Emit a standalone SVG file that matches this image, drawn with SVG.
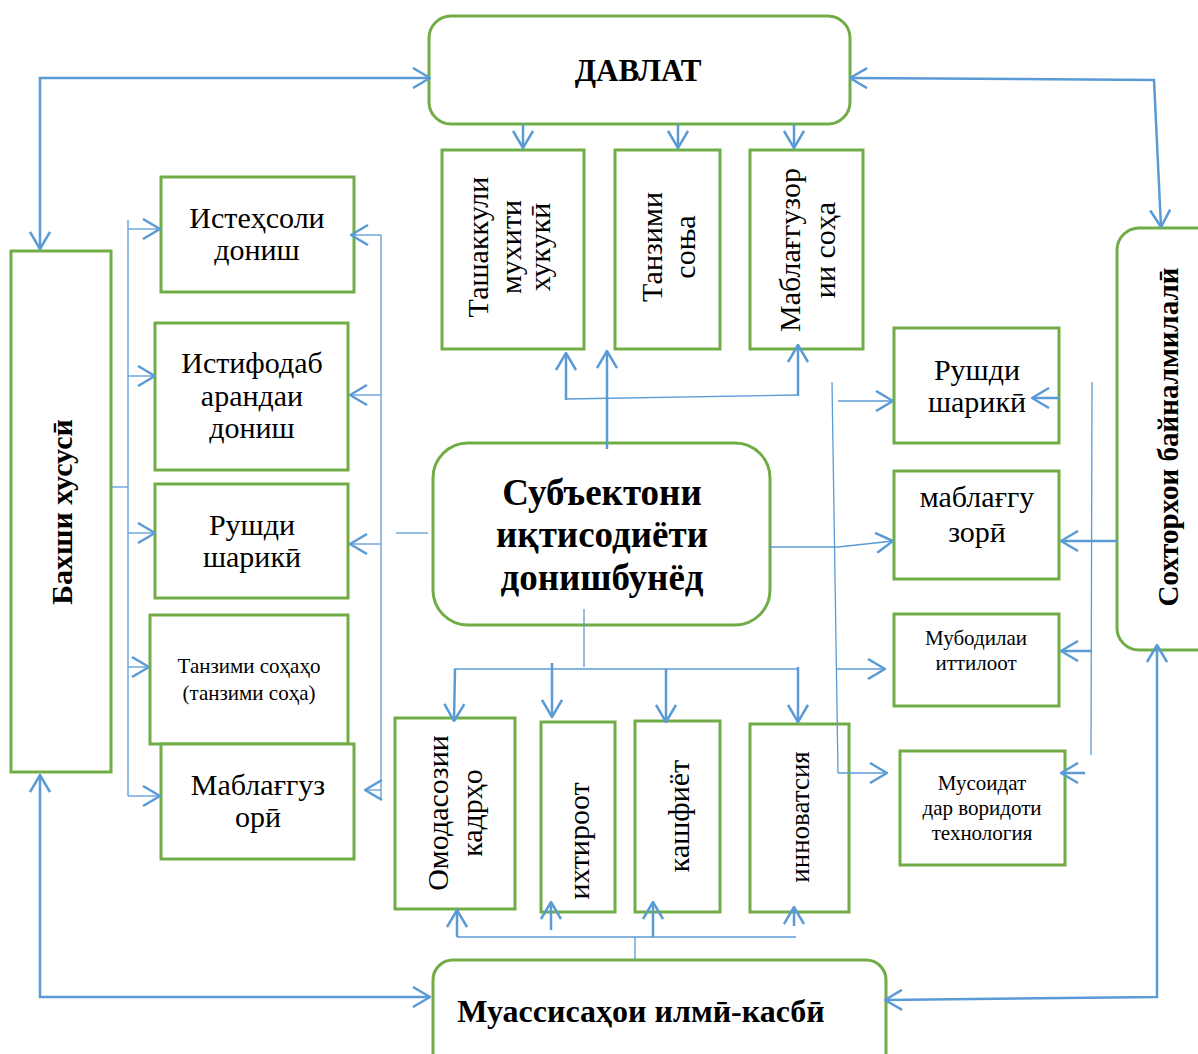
<svg xmlns="http://www.w3.org/2000/svg" width="1198" height="1054" viewBox="0 0 1198 1054">
<defs>
<marker id="a" viewBox="0 0 20 22" refX="19" refY="11" markerWidth="20" markerHeight="22" markerUnits="userSpaceOnUse" orient="auto-start-reverse"><path d="M2,1 L19,11 L2,21" fill="none" stroke="#5B9BD5" stroke-width="2.5"/></marker>
</defs>
<style>
.b{fill:#fff;stroke:#70AD47;stroke-width:3}
.t{font-family:"Liberation Serif","Times New Roman",serif;font-size:30px;fill:#000;text-anchor:middle}
.s{font-size:21px}
.bd{font-weight:bold}
.c{fill:none;stroke:#5B9BD5;stroke-width:2.5}
.th{fill:none;stroke:#5B9BD5;stroke-width:1.3}
.ar{marker-end:url(#a)}
.ar2{marker-start:url(#a);marker-end:url(#a)}
</style>
<rect width="1198" height="1054" fill="#fff"/>
<g id="davlat"><rect class="b" x="429" y="16" width="421" height="108" rx="22"/><text class="t bd" style="font-size:31px" x="638" y="81">ДАВЛАТ</text></g>
<g id="tashakkuli"><rect class="b" x="442" y="150" width="142" height="199"/><text class="t" transform="translate(488,247) rotate(-90)"><tspan x="0" y="0">Ташаккули</tspan><tspan x="0" y="33">мухити</tspan><tspan x="0" y="62">хукукӣ</tspan></text></g>
<g id="tanzimi-sona"><rect class="b" x="615" y="150" width="105" height="199"/><text class="t" transform="translate(662,247) rotate(-90)"><tspan x="0" y="0">Танзими</tspan><tspan x="0" y="33">соња</tspan></text></g>
<g id="mablaghguzori-soha"><rect class="b" x="750" y="150" width="113" height="199"/><text class="t" transform="translate(800,250) rotate(-90)"><tspan x="0" y="0">Маблағгузор</tspan><tspan x="0" y="35">ии соҳа</tspan></text></g>
<g id="sokhtorho"><rect class="b" x="1117" y="228" width="110" height="422" rx="22"/><text class="t bd" style="font-size:29px" transform="translate(1178,437) rotate(-90)">Сохторхои байналмилалӣ</text></g>
<g id="bakhshi-xususi"><rect class="b" x="11" y="251" width="100" height="521"/><text class="t bd" transform="translate(72,512) rotate(-90)">Бахши хусусӣ</text></g>
<g id="istehsoli"><rect class="b" x="161" y="177" width="193" height="115"/><text class="t"><tspan x="257" y="228">Истеҳсоли</tspan><tspan x="257" y="260">дониш</tspan></text></g>
<g id="istifoda"><rect class="b" x="155" y="323" width="193" height="147"/><text class="t"><tspan x="252" y="373">Истифодаб</tspan><tspan x="252" y="406">арандаи</tspan><tspan x="252" y="438">дониш</tspan></text></g>
<g id="rushd-left"><rect class="b" x="155" y="484" width="193" height="114"/><text class="t"><tspan x="252" y="535">Рушди</tspan><tspan x="252" y="567">шарикӣ</tspan></text></g>
<g id="tanzimi-sohaho"><rect class="b" x="150" y="615" width="198" height="129"/><text class="t s"><tspan x="249" y="673">Танзими соҳаҳо</tspan><tspan x="249" y="700">(танзими соҳа)</tspan></text></g>
<g id="mablagh-left"><rect class="b" x="161" y="744" width="193" height="115"/><text class="t"><tspan x="258" y="795">Маблағгуз</tspan><tspan x="258" y="827">орӣ</tspan></text></g>
<g id="subyektoni"><rect class="b" x="433" y="443" width="337" height="182" rx="35"/><text class="t bd" style="font-size:37px"><tspan x="602" y="505">Субъектони</tspan><tspan x="602" y="547">иқтисодиёти</tspan><tspan x="602" y="590">донишбунёд</tspan></text></g>
<g id="rushd-right"><rect class="b" x="894" y="328" width="165" height="115"/><text class="t"><tspan x="977" y="380">Рушди</tspan><tspan x="977" y="412">шарикӣ</tspan></text></g>
<g id="mablagh-right"><rect class="b" x="894" y="471" width="165" height="108"/><text class="t"><tspan x="977" y="507">маблағгу</tspan><tspan x="977" y="542">зорӣ</tspan></text></g>
<g id="mubodila"><rect class="b" x="894" y="614" width="165" height="92"/><text class="t s"><tspan x="976" y="645">Мубодилаи</tspan><tspan x="976" y="670">иттилоот</tspan></text></g>
<g id="musoidat"><rect class="b" x="900" y="751" width="165" height="114"/><text class="t s"><tspan x="982" y="790">Мусоидат</tspan><tspan x="982" y="815">дар воридоти</tspan><tspan x="982" y="840">технология</tspan></text></g>
<g id="omodasozi"><rect class="b" x="395" y="718" width="120" height="191"/><text class="t" transform="translate(448,813) rotate(-90)"><tspan x="0" y="0">Омодасозии</tspan><tspan x="0" y="34">кадрҳо</tspan></text></g>
<g id="ikhtiroot"><rect class="b" x="541" y="722" width="74" height="190"/><text class="t" transform="translate(589,841) rotate(-90)">ихтироот</text></g>
<g id="kashfiyot"><rect class="b" x="635" y="721" width="85" height="191"/><text class="t" transform="translate(689,816) rotate(-90)">кашфиёт</text></g>
<g id="innovatsiya"><rect class="b" x="750" y="724" width="99" height="188"/><text class="t" style="font-size:27px" transform="translate(809,817) rotate(-90)">инноватсия</text></g>
<g id="muassisaho"><rect class="b" x="433" y="960" width="453" height="120" rx="20"/><text class="t bd" style="font-size:32px" x="641" y="1022">Муассисаҳои илмӣ-касбӣ</text></g>
<g id="connectors">
<path class="c ar2" d="M430,78 L40,78 L40,249"/>
<path class="c ar2" d="M850,78 L1154,80 L1161,227"/>
<path class="c ar2" d="M40,775 L40,997 L430,997"/>
<path class="c ar2" d="M885,1000 L1157,997 L1157,645"/>
<path class="c ar" d="M523,124 L523,148"/>
<path class="c ar" d="M678,124 L678,148"/>
<path class="c ar" d="M794,124 L794,148"/>
<path class="c ar" d="M607,449 L607,351"/>
<path class="c ar" d="M566,400 L566,353"/>
<path class="th" d="M566,399 L798,395"/>
<path class="c ar" d="M798,396 L798,345"/>
<path class="th" d="M584,609 L584,667"/>
<path class="th" d="M454,669 L798,669"/>
<path class="c ar" d="M455,669 L454,721"/>
<path class="c ar" d="M552,663 L552,717"/>
<path class="c ar" d="M666,669 L666,722"/>
<path class="c ar" d="M798,667 L798,722"/>
<path class="th" d="M396,533 L428,533"/>
<path class="th" d="M381,235 L381,800"/>
<path class="th ar" d="M381,235 L351,235"/>
<path class="th ar" d="M381,395 L350,395"/>
<path class="th ar" d="M381,544 L350,544"/>
<path class="th ar" d="M381,790 L365,790"/>
<path class="th" d="M128,220 L128,796"/>
<path class="th" d="M112,487 L128,487"/>
<path class="th ar" d="M128,229 L160,229"/>
<path class="th ar" d="M128,376 L155,376"/>
<path class="th ar" d="M128,533 L155,533"/>
<path class="th ar" d="M128,667 L149,667"/>
<path class="th ar" d="M128,796 L160,796"/>
<path class="th" d="M770,547 L838,547"/>
<path class="th ar" d="M838,547 L893,541"/>
<path class="th" d="M832,382 L838,773"/>
<path class="th ar" d="M838,401 L893,401"/>
<path class="th ar" d="M837,669 L885,669"/>
<path class="th ar" d="M838,773 L887,773"/>
<path class="th" d="M1092,382 L1091,755"/>
<path class="c ar" d="M1059,398 L1032,398"/>
<path class="c ar" d="M1117,541 L1061,541"/>
<path class="c ar" d="M1092,651 L1061,651"/>
<path class="c ar" d="M1085,773 L1061,773"/>
<path class="th" d="M457,937 L796,937"/>
<path class="th" d="M635,937 L635,959"/>
<path class="c ar" d="M457,937 L457,910"/>
<path class="c ar" d="M551,930 L551,902"/>
<path class="c ar" d="M653,937 L653,902"/>
<path class="c ar" d="M794,926 L794,907"/>
</g>
</svg>
